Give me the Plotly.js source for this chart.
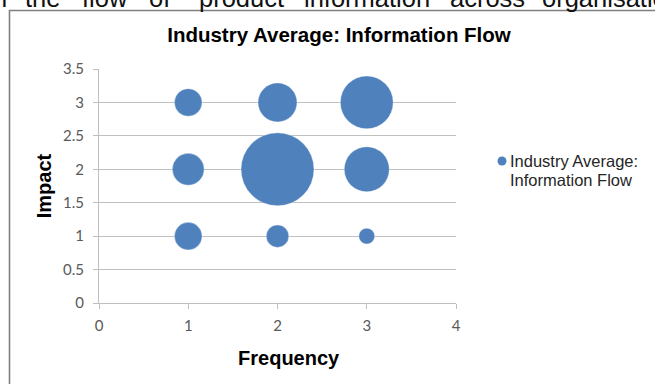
<!DOCTYPE html>
<html>
<head>
<meta charset="utf-8">
<script src="https://cdn.plot.ly/plotly-3.0.1.min.js"></script>
<style>
html,body{margin:0;padding:0;background:#fff;overflow:hidden;}
#chart{width:655px;height:384px;}
</style>
</head>
<body>
<div id="chart"></div>
<script>
// ---- data ----
var frequency = [1, 2, 3, 1, 2, 3, 1, 2, 3];
var impact    = [1, 1, 1, 2, 2, 2, 3, 3, 3];
var bubbleSize = [3, 2, 1, 4, 21, 8, 3, 6, 11];
var seriesName = "Industry Average: Information Flow";
var chartTitle = "Industry Average: Information Flow";
var xTitle = "Frequency";
var yTitle = "Impact";
var xTicks = [0, 1, 2, 3, 4];
var yTicks = [0, 0.5, 1, 1.5, 2, 2.5, 3, 3.5];
var topWords = ["f", "the", "flow", "of", "product", "information", "across", "organisatio"];

// ---- layout geometry ----
var W = 655, H = 384;
var M = {l: 99, r: 199, t: 69, b: 81};
var PW = W - M.l - M.r, PH = H - M.t - M.b;
function px2x(px) { return (px - M.l) / PW; }
function px2y(py) { return (M.t + PH - py) / PH; }

var blue = "#4F81BD";
var maxBubblePx = 73;
var maxVal = Math.max.apply(null, bubbleSize);

var traces = [{
  type: "scatter",
  mode: "markers",
  name: seriesName,
  x: frequency,
  y: impact,
  showlegend: false,
  hoverinfo: "x+y",
  marker: {
    size: bubbleSize,
    sizemode: "area",
    sizeref: 2 * maxVal / (maxBubblePx * maxBubblePx),
    color: blue,
    line: {width: 0.6, color: "rgba(255,255,255,0.6)"},
    opacity: 1
  }
}];

var wordX = [-1, 23, 80, 147, 197, 302, 448, 540];
var annotations = topWords.map(function (w, i) {
  return {
    text: w, xref: "paper", yref: "paper",
    x: px2x(wordX[i]), y: px2y(14), xanchor: "left", yanchor: "bottom",
    showarrow: false,
    font: {family: "Liberation Sans, Arial, sans-serif", size: 25.5, color: "#111"}
  };
});
// legend text (manual legend so marker sits right next to text)
var legLines = ["Industry Average:", "Information Flow"];
var legY = [161, 180];
legLines.forEach(function (t, i) {
  annotations.push({
    text: t, xref: "paper", yref: "paper",
    x: px2x(508), y: px2y(legY[i]), xanchor: "left", yanchor: "middle",
    showarrow: false,
    font: {family: "Liberation Sans, Arial, sans-serif", size: 16.5, color: "#262626"}
  });
});

var shapes = [
  // outer chart frame (extends beyond the picture to the right and bottom)
  {type: "rect", xref: "paper", yref: "paper",
   x0: px2x(9.5), x1: px2x(720), y0: px2y(10.5), y1: px2y(430),
   line: {color: "#808080", width: 1.6}, fillcolor: "rgba(0,0,0,0)", layer: "below"},
  // legend marker
  {type: "circle", xref: "paper", yref: "paper",
   xsizemode: "pixel", ysizemode: "pixel",
   xanchor: px2x(502), yanchor: px2y(161),
   x0: -4.5, x1: 4.5, y0: -4.5, y1: 4.5,
   fillcolor: blue, line: {width: 0}}
];

var axisFont = {family: "Lato, Carlito, sans-serif", size: 15, color: "#595959"};
var titleFont = {family: "Liberation Sans, Arial, sans-serif", size: 20, color: "#000", weight: "bold"};

var layout = {
  width: W, height: H,
  margin: M,
  paper_bgcolor: "#fff",
  plot_bgcolor: "#fff",
  showlegend: false,
  title: {
    text: "<b>" + chartTitle + "</b>",
    x: 339 / W, xref: "container", xanchor: "center",
    y: 1 - 35 / H, yref: "container", yanchor: "middle",
    font: {family: "Liberation Sans, Arial, sans-serif", size: 20.5, color: "#000"}
  },
  xaxis: {
    range: [0, 4], tickvals: xTicks, ticktext: xTicks.map(String),
    showgrid: false, zeroline: false,
    showline: true, linecolor: "#bfbfbf", linewidth: 1,
    ticks: "outside", ticklen: 5, tickcolor: "#bfbfbf",
    ticklabelstandoff: 4,
    tickfont: axisFont, fixedrange: true,
    title: {text: "<b>&nbsp;&nbsp;&nbsp;&nbsp;" + xTitle + "</b>", font: titleFont, standoff: 17}
  },
  yaxis: {
    range: [0, 3.5], tickvals: yTicks, ticktext: yTicks.map(String),
    showgrid: true, gridcolor: "#c0c0c0", gridwidth: 1,
    zeroline: false,
    showline: true, linecolor: "#bfbfbf", linewidth: 1,
    ticks: "outside", ticklen: 5, tickcolor: "#bfbfbf",
    ticklabelstandoff: 6,
    tickfont: axisFont, fixedrange: true,
    title: {text: "<b>" + yTitle + "</b>", font: titleFont, standoff: 6}
  },
  annotations: annotations,
  shapes: shapes
};

Plotly.newPlot("chart", traces, layout, {staticPlot: true, displayModeBar: false});
</script>
</body>
</html>
